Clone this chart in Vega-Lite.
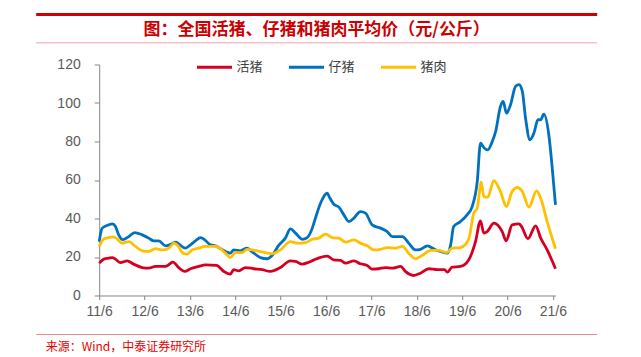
{
  "$schema": "https://vega.github.io/schema/vega-lite/v6.json",
  "autosize": {"type": "pad"},
  "padding": {"left": 34.2, "top": 12.5, "right": 5, "bottom": 5},
  "background": "white",
  "bounds": "flush",
  "spacing": 21,
  "config": {
    "view": {"stroke": null},
    "axis": {"domainColor": "#868686", "tickColor": "#868686", "labelColor": "#595959", "labelFont": "Liberation Sans", "labelFontSize": 14, "grid": false, "title": null}
  },
  "vconcat": [
    {
      "width": 561,
      "height": 28.3,
      "data": {"values": [{"t": "图：全国活猪、仔猪和猪肉平均价（元/公斤）"}]},
      "layer": [
        {"mark": {"type": "rule", "color": "#CC0000", "strokeWidth": 3},
         "encoding": {"y": {"datum": 1, "type": "quantitative", "scale": {"domain": [0, 1], "nice": false, "zero": false}, "axis": null}}},
        {"mark": {"type": "rule", "color": "#F2A0B0", "strokeWidth": 1},
         "encoding": {"y": {"datum": 0, "type": "quantitative"}}},
        {"mark": {"type": "text", "color": "#CC0000", "fontSize": 17, "fontWeight": "bold", "font": "Noto Sans CJK SC", "baseline": "middle", "align": "center"},
         "encoding": {"y": {"datum": 0.47, "type": "quantitative"}, "text": {"field": "t"}}}
      ]
    },
    {
      "width": 561,
      "height": 231,
      "data": {"values": [
        {"d": "2011-06-01", "s": "活猪", "v": 16.8},
        {"d": "2011-07-08", "s": "活猪", "v": 18.9},
        {"d": "2011-08-17", "s": "活猪", "v": 19.4},
        {"d": "2011-09-15", "s": "活猪", "v": 19.7},
        {"d": "2011-10-10", "s": "活猪", "v": 18.9},
        {"d": "2011-11-19", "s": "活猪", "v": 17.1},
        {"d": "2012-01-12", "s": "活猪", "v": 18.0},
        {"d": "2012-03-05", "s": "活猪", "v": 16.3},
        {"d": "2012-05-12", "s": "活猪", "v": 14.5},
        {"d": "2012-07-04", "s": "活猪", "v": 14.2},
        {"d": "2012-08-28", "s": "活猪", "v": 15.1},
        {"d": "2012-11-16", "s": "活猪", "v": 15.1},
        {"d": "2013-01-15", "s": "活猪", "v": 17.3},
        {"d": "2013-03-02", "s": "活猪", "v": 14.5},
        {"d": "2013-04-20", "s": "活猪", "v": 12.5},
        {"d": "2013-06-05", "s": "活猪", "v": 13.9},
        {"d": "2013-08-11", "s": "活猪", "v": 15.1},
        {"d": "2013-10-04", "s": "活猪", "v": 15.9},
        {"d": "2014-01-01", "s": "活猪", "v": 15.6},
        {"d": "2014-03-01", "s": "活猪", "v": 12.5},
        {"d": "2014-04-22", "s": "活猪", "v": 11.1},
        {"d": "2014-05-19", "s": "活猪", "v": 13.4},
        {"d": "2014-06-29", "s": "活猪", "v": 12.8},
        {"d": "2014-08-22", "s": "活猪", "v": 14.5},
        {"d": "2014-10-28", "s": "活猪", "v": 13.9},
        {"d": "2015-01-04", "s": "活猪", "v": 13.4},
        {"d": "2015-03-10", "s": "活猪", "v": 12.5},
        {"d": "2015-05-30", "s": "活猪", "v": 14.5},
        {"d": "2015-08-19", "s": "活猪", "v": 18.0},
        {"d": "2015-09-29", "s": "活猪", "v": 17.7},
        {"d": "2015-11-21", "s": "活猪", "v": 16.3},
        {"d": "2016-01-14", "s": "活猪", "v": 17.3},
        {"d": "2016-02-24", "s": "活猪", "v": 18.5},
        {"d": "2016-04-17", "s": "活猪", "v": 19.8},
        {"d": "2016-06-10", "s": "活猪", "v": 20.5},
        {"d": "2016-08-02", "s": "活猪", "v": 18.5},
        {"d": "2016-09-26", "s": "活猪", "v": 18.2},
        {"d": "2016-11-05", "s": "活猪", "v": 16.8},
        {"d": "2017-01-11", "s": "活猪", "v": 18.0},
        {"d": "2017-03-04", "s": "活猪", "v": 16.5},
        {"d": "2017-04-28", "s": "活猪", "v": 15.6},
        {"d": "2017-06-07", "s": "活猪", "v": 13.7},
        {"d": "2017-07-30", "s": "活猪", "v": 13.9},
        {"d": "2017-09-23", "s": "活猪", "v": 14.5},
        {"d": "2017-11-16", "s": "活猪", "v": 14.2},
        {"d": "2018-01-22", "s": "活猪", "v": 15.1},
        {"d": "2018-03-01", "s": "活猪", "v": 12.5},
        {"d": "2018-05-07", "s": "活猪", "v": 10.4},
        {"d": "2018-07-01", "s": "活猪", "v": 11.6},
        {"d": "2018-09-06", "s": "活猪", "v": 13.9},
        {"d": "2018-11-13", "s": "活猪", "v": 13.4},
        {"d": "2019-01-11", "s": "活猪", "v": 13.4},
        {"d": "2019-02-02", "s": "活猪", "v": 12.1},
        {"d": "2019-03-12", "s": "活猪", "v": 14.7},
        {"d": "2019-05-18", "s": "活猪", "v": 15.1},
        {"d": "2019-07-24", "s": "活猪", "v": 18.5},
        {"d": "2019-09-17", "s": "活猪", "v": 28.0},
        {"d": "2019-10-27", "s": "活猪", "v": 38.8},
        {"d": "2019-11-23", "s": "活猪", "v": 32.4},
        {"d": "2019-12-20", "s": "活猪", "v": 33.2},
        {"d": "2020-02-12", "s": "活猪", "v": 37.6},
        {"d": "2020-04-19", "s": "活猪", "v": 33.2},
        {"d": "2020-05-21", "s": "活猪", "v": 28.4},
        {"d": "2020-07-08", "s": "活猪", "v": 36.7},
        {"d": "2020-09-01", "s": "活猪", "v": 37.2},
        {"d": "2020-09-22", "s": "活猪", "v": 35.8},
        {"d": "2020-11-12", "s": "活猪", "v": 29.5},
        {"d": "2021-01-13", "s": "活猪", "v": 36.2},
        {"d": "2021-02-23", "s": "活猪", "v": 29.8},
        {"d": "2021-04-16", "s": "活猪", "v": 23.7},
        {"d": "2021-06-22", "s": "活猪", "v": 13.9},

        {"d": "2011-06-01", "s": "仔猪", "v": 28.0},
        {"d": "2011-06-25", "s": "仔猪", "v": 35.0},
        {"d": "2011-08-15", "s": "仔猪", "v": 36.7},
        {"d": "2011-09-15", "s": "仔猪", "v": 37.2},
        {"d": "2011-10-10", "s": "仔猪", "v": 35.8},
        {"d": "2011-11-05", "s": "仔猪", "v": 31.5},
        {"d": "2011-12-08", "s": "仔猪", "v": 29.0},
        {"d": "2012-01-25", "s": "仔猪", "v": 30.6},
        {"d": "2012-03-13", "s": "仔猪", "v": 32.7},
        {"d": "2012-05-12", "s": "仔猪", "v": 31.5},
        {"d": "2012-07-04", "s": "仔猪", "v": 29.8},
        {"d": "2012-08-13", "s": "仔猪", "v": 28.4},
        {"d": "2012-09-23", "s": "仔猪", "v": 28.4},
        {"d": "2012-11-16", "s": "仔猪", "v": 25.8},
        {"d": "2012-12-18", "s": "仔猪", "v": 26.3},
        {"d": "2013-02-06", "s": "仔猪", "v": 27.7},
        {"d": "2013-03-02", "s": "仔猪", "v": 26.8},
        {"d": "2013-04-25", "s": "仔猪", "v": 24.6},
        {"d": "2013-06-05", "s": "仔猪", "v": 26.3},
        {"d": "2013-07-15", "s": "仔猪", "v": 28.4},
        {"d": "2013-08-25", "s": "仔猪", "v": 30.1},
        {"d": "2013-09-28", "s": "仔猪", "v": 28.9},
        {"d": "2013-11-13", "s": "仔猪", "v": 26.3},
        {"d": "2013-12-24", "s": "仔猪", "v": 25.8},
        {"d": "2014-02-03", "s": "仔猪", "v": 24.3},
        {"d": "2014-04-22", "s": "仔猪", "v": 22.0},
        {"d": "2014-05-19", "s": "仔猪", "v": 23.7},
        {"d": "2014-07-12", "s": "仔猪", "v": 23.2},
        {"d": "2014-08-30", "s": "仔猪", "v": 24.6},
        {"d": "2014-10-28", "s": "仔猪", "v": 22.0},
        {"d": "2014-12-20", "s": "仔猪", "v": 19.7},
        {"d": "2015-02-13", "s": "仔猪", "v": 19.1},
        {"d": "2015-03-24", "s": "仔猪", "v": 20.8},
        {"d": "2015-05-16", "s": "仔猪", "v": 26.0},
        {"d": "2015-07-09", "s": "仔猪", "v": 29.8},
        {"d": "2015-08-19", "s": "仔猪", "v": 34.6},
        {"d": "2015-09-29", "s": "仔猪", "v": 32.4},
        {"d": "2015-11-21", "s": "仔猪", "v": 29.2},
        {"d": "2016-01-01", "s": "仔猪", "v": 30.1},
        {"d": "2016-02-11", "s": "仔猪", "v": 35.0},
        {"d": "2016-03-07", "s": "仔猪", "v": 40.2},
        {"d": "2016-04-17", "s": "仔猪", "v": 47.9},
        {"d": "2016-05-27", "s": "仔猪", "v": 52.6},
        {"d": "2016-06-10", "s": "仔猪", "v": 53.2},
        {"d": "2016-06-28", "s": "仔猪", "v": 51.0},
        {"d": "2016-08-02", "s": "仔猪", "v": 47.4},
        {"d": "2016-09-12", "s": "仔猪", "v": 45.9},
        {"d": "2016-10-22", "s": "仔猪", "v": 41.9},
        {"d": "2016-12-01", "s": "仔猪", "v": 38.4},
        {"d": "2017-01-11", "s": "仔猪", "v": 40.2},
        {"d": "2017-03-04", "s": "仔猪", "v": 43.6},
        {"d": "2017-04-14", "s": "仔猪", "v": 42.8},
        {"d": "2017-06-07", "s": "仔猪", "v": 36.7},
        {"d": "2017-08-13", "s": "仔猪", "v": 35.0},
        {"d": "2017-10-06", "s": "仔猪", "v": 33.2},
        {"d": "2017-11-16", "s": "仔猪", "v": 30.6},
        {"d": "2018-02-05", "s": "仔猪", "v": 30.6},
        {"d": "2018-03-28", "s": "仔猪", "v": 27.2},
        {"d": "2018-05-21", "s": "仔猪", "v": 23.7},
        {"d": "2018-07-01", "s": "仔猪", "v": 24.0},
        {"d": "2018-08-24", "s": "仔猪", "v": 25.8},
        {"d": "2018-10-30", "s": "仔猪", "v": 23.7},
        {"d": "2018-12-10", "s": "仔猪", "v": 22.9},
        {"d": "2019-02-02", "s": "仔猪", "v": 22.0},
        {"d": "2019-03-01", "s": "仔猪", "v": 26.3},
        {"d": "2019-03-25", "s": "仔猪", "v": 35.8},
        {"d": "2019-05-18", "s": "仔猪", "v": 38.4},
        {"d": "2019-07-11", "s": "仔猪", "v": 41.9},
        {"d": "2019-08-21", "s": "仔猪", "v": 46.2},
        {"d": "2019-10-01", "s": "仔猪", "v": 59.2},
        {"d": "2019-10-27", "s": "仔猪", "v": 79.1},
        {"d": "2019-11-28", "s": "仔猪", "v": 76.5},
        {"d": "2019-12-25", "s": "仔猪", "v": 75.7},
        {"d": "2020-01-30", "s": "仔猪", "v": 80.0},
        {"d": "2020-02-26", "s": "仔猪", "v": 85.2},
        {"d": "2020-04-05", "s": "仔猪", "v": 98.2},
        {"d": "2020-04-27", "s": "仔猪", "v": 100.8},
        {"d": "2020-05-23", "s": "仔猪", "v": 94.7},
        {"d": "2020-06-25", "s": "仔猪", "v": 99.1},
        {"d": "2020-08-04", "s": "仔猪", "v": 108.6},
        {"d": "2020-09-01", "s": "仔猪", "v": 109.5},
        {"d": "2020-09-28", "s": "仔猪", "v": 106.0},
        {"d": "2020-10-24", "s": "仔猪", "v": 92.1},
        {"d": "2020-11-28", "s": "仔猪", "v": 80.9},
        {"d": "2020-12-30", "s": "仔猪", "v": 84.3},
        {"d": "2021-02-01", "s": "仔猪", "v": 91.3},
        {"d": "2021-02-23", "s": "仔猪", "v": 91.3},
        {"d": "2021-03-20", "s": "仔猪", "v": 94.2},
        {"d": "2021-05-01", "s": "仔猪", "v": 82.6},
        {"d": "2021-05-27", "s": "仔猪", "v": 66.1},
        {"d": "2021-06-22", "s": "仔猪", "v": 47.1},

        {"d": "2011-06-01", "s": "猪肉", "v": 25.5},
        {"d": "2011-07-08", "s": "猪肉", "v": 29.4},
        {"d": "2011-08-17", "s": "猪肉", "v": 30.1},
        {"d": "2011-09-19", "s": "猪肉", "v": 30.5},
        {"d": "2011-10-16", "s": "猪肉", "v": 29.8},
        {"d": "2011-12-03", "s": "猪肉", "v": 27.2},
        {"d": "2012-01-25", "s": "猪肉", "v": 28.0},
        {"d": "2012-03-19", "s": "猪肉", "v": 25.5},
        {"d": "2012-05-12", "s": "猪肉", "v": 23.2},
        {"d": "2012-07-04", "s": "猪肉", "v": 22.9},
        {"d": "2012-08-28", "s": "猪肉", "v": 24.3},
        {"d": "2012-10-21", "s": "猪肉", "v": 23.7},
        {"d": "2012-12-13", "s": "猪肉", "v": 24.6},
        {"d": "2013-01-23", "s": "猪肉", "v": 27.2},
        {"d": "2013-02-28", "s": "猪肉", "v": 25.5},
        {"d": "2013-04-04", "s": "猪肉", "v": 22.0},
        {"d": "2013-05-09", "s": "猪肉", "v": 21.5},
        {"d": "2013-06-19", "s": "猪肉", "v": 23.7},
        {"d": "2013-08-11", "s": "猪肉", "v": 24.6},
        {"d": "2013-10-04", "s": "猪肉", "v": 25.5},
        {"d": "2013-12-24", "s": "猪肉", "v": 25.5},
        {"d": "2014-01-20", "s": "猪肉", "v": 24.9},
        {"d": "2014-03-13", "s": "猪肉", "v": 22.0},
        {"d": "2014-04-22", "s": "猪肉", "v": 19.7},
        {"d": "2014-06-02", "s": "猪肉", "v": 22.3},
        {"d": "2014-07-25", "s": "猪肉", "v": 22.3},
        {"d": "2014-09-05", "s": "猪肉", "v": 24.0},
        {"d": "2014-11-24", "s": "猪肉", "v": 23.2},
        {"d": "2015-02-01", "s": "猪肉", "v": 22.3},
        {"d": "2015-03-24", "s": "猪肉", "v": 21.7},
        {"d": "2015-05-30", "s": "猪肉", "v": 23.7},
        {"d": "2015-08-19", "s": "猪肉", "v": 28.0},
        {"d": "2015-10-12", "s": "猪肉", "v": 27.2},
        {"d": "2015-12-18", "s": "猪肉", "v": 27.5},
        {"d": "2016-02-11", "s": "猪肉", "v": 29.2},
        {"d": "2016-04-04", "s": "猪肉", "v": 29.8},
        {"d": "2016-05-27", "s": "猪肉", "v": 31.9},
        {"d": "2016-07-20", "s": "猪肉", "v": 30.1},
        {"d": "2016-09-12", "s": "猪肉", "v": 29.8},
        {"d": "2016-11-05", "s": "猪肉", "v": 27.7},
        {"d": "2017-01-11", "s": "猪肉", "v": 28.9},
        {"d": "2017-03-04", "s": "猪肉", "v": 27.2},
        {"d": "2017-04-28", "s": "猪肉", "v": 25.8},
        {"d": "2017-06-20", "s": "猪肉", "v": 23.7},
        {"d": "2017-08-13", "s": "猪肉", "v": 24.0},
        {"d": "2017-10-06", "s": "猪肉", "v": 24.9},
        {"d": "2017-12-12", "s": "猪肉", "v": 24.6},
        {"d": "2018-02-05", "s": "猪肉", "v": 25.5},
        {"d": "2018-03-28", "s": "猪肉", "v": 22.0},
        {"d": "2018-05-21", "s": "猪肉", "v": 19.1},
        {"d": "2018-07-14", "s": "猪肉", "v": 20.8},
        {"d": "2018-09-20", "s": "猪肉", "v": 23.4},
        {"d": "2018-11-26", "s": "猪肉", "v": 23.4},
        {"d": "2019-01-27", "s": "猪肉", "v": 22.3},
        {"d": "2019-03-12", "s": "猪肉", "v": 24.6},
        {"d": "2019-05-18", "s": "猪肉", "v": 24.9},
        {"d": "2019-07-24", "s": "猪肉", "v": 29.2},
        {"d": "2019-09-03", "s": "猪肉", "v": 42.8},
        {"d": "2019-10-01", "s": "猪肉", "v": 45.4},
        {"d": "2019-11-02", "s": "猪肉", "v": 58.9},
        {"d": "2019-11-23", "s": "猪肉", "v": 51.4},
        {"d": "2019-12-25", "s": "猪肉", "v": 51.1},
        {"d": "2020-02-12", "s": "猪肉", "v": 59.7},
        {"d": "2020-04-05", "s": "猪肉", "v": 54.0},
        {"d": "2020-05-23", "s": "猪肉", "v": 46.2},
        {"d": "2020-07-08", "s": "猪肉", "v": 54.0},
        {"d": "2020-08-18", "s": "猪肉", "v": 56.1},
        {"d": "2020-09-28", "s": "猪肉", "v": 54.0},
        {"d": "2020-11-20", "s": "猪肉", "v": 45.9},
        {"d": "2021-01-21", "s": "猪肉", "v": 54.4},
        {"d": "2021-02-23", "s": "猪肉", "v": 50.5},
        {"d": "2021-04-16", "s": "猪肉", "v": 38.4},
        {"d": "2021-06-22", "s": "猪肉", "v": 24.3}
      ]},
      "mark": {"type": "line", "strokeWidth": 2.8, "interpolate": "monotone"},
      "encoding": {
        "x": {
          "field": "d", "type": "temporal",
          "scale": {"type": "utc", "domain": [{"year": 2011, "month": 6, "date": 1, "utc": true}, {"year": 2021, "month": 6, "date": 22, "utc": true}], "range": [63, 519.3]},
          "axis": {
            "values": [
              {"year": 2011, "month": 6, "date": 1, "utc": true},
              {"year": 2012, "month": 6, "date": 1, "utc": true},
              {"year": 2013, "month": 6, "date": 1, "utc": true},
              {"year": 2014, "month": 6, "date": 1, "utc": true},
              {"year": 2015, "month": 6, "date": 1, "utc": true},
              {"year": 2016, "month": 6, "date": 1, "utc": true},
              {"year": 2017, "month": 6, "date": 1, "utc": true},
              {"year": 2018, "month": 6, "date": 1, "utc": true},
              {"year": 2019, "month": 6, "date": 1, "utc": true},
              {"year": 2020, "month": 6, "date": 1, "utc": true},
              {"year": 2021, "month": 6, "date": 1, "utc": true}
            ],
            "format": "%y/%-m", "tickSize": 4, "labelPadding": 5, "labelFlush": false, "labelOverlap": false
          }
        },
        "y": {
          "field": "v", "type": "quantitative",
          "scale": {"domain": [0, 120], "nice": false},
          "axis": {"values": [0, 20, 40, 60, 80, 100, 120], "offset": -63, "tickSize": 5, "labelPadding": 14}
        },
        "color": {
          "field": "s", "type": "nominal",
          "scale": {"domain": ["活猪", "仔猪", "猪肉"], "range": ["#D50021", "#0070C0", "#FFC000"]},
          "legend": {"title": null, "orient": "none", "legendX": 159.3, "legendY": 33.8, "direction": "horizontal", "symbolType": "stroke", "symbolSize": 1225, "symbolStrokeWidth": 3, "labelFontSize": 13, "labelFont": "Noto Sans CJK SC", "labelColor": "#404040", "labelOffset": 3, "columnPadding": 19, "padding": 0}
        }
      }
    },
    {
      "width": 561,
      "height": 18,
      "data": {"values": [{}]},
      "title": {"text": "来源：Wind，中泰证券研究所", "orient": "bottom", "anchor": "start", "offset": 7, "dx": 10, "fontSize": 12, "font": "Noto Sans CJK SC", "fontWeight": "normal", "color": "#E60000"},
      "mark": {"type": "rule", "color": "#EE8A8A", "strokeWidth": 1},
      "encoding": {"y": {"datum": 0, "type": "quantitative", "scale": {"domain": [0, 1], "nice": false, "zero": false}, "axis": null}}
    }
  ]
}
